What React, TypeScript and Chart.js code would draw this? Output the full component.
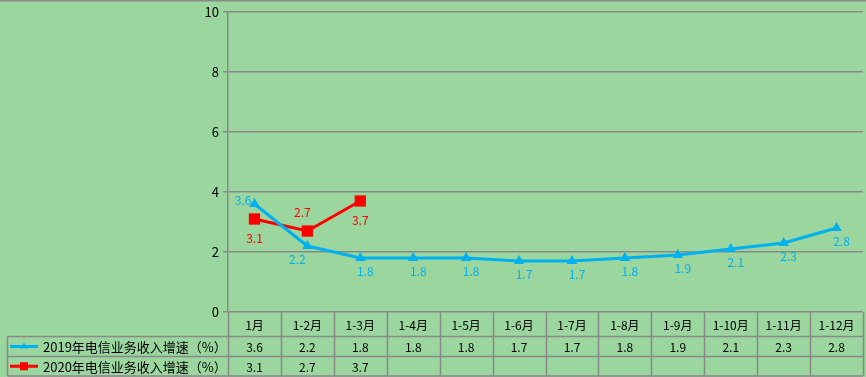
import React, { useEffect, useRef } from "react";
import { Chart, registerables } from "chart.js";

Chart.register(...registerables);

const categories = ["1月", "1-2月", "1-3月", "1-4月", "1-5月", "1-6月", "1-7月", "1-8月", "1-9月", "1-10月", "1-11月", "1-12月"];
const seriesNames = ["2019年电信业务收入增速（%）", "2020年电信业务收入增速（%）"];
const growth2019: (number | null)[] = [3.6, 2.2, 1.8, 1.8, 1.8, 1.7, 1.7, 1.8, 1.9, 2.1, 2.3, 2.8];
const growth2020: (number | null)[] = [3.1, 2.7, 3.7, null, null, null, null, null, null, null, null, null];
const yMin = 0;
const yMax = 10;
const yStep = 2;

// label placement per point
const labelPos2019 = ["left", "belowleft", "below", "below", "below", "below", "below", "below", "below", "below", "below", "below"];
const labelPos2020 = ["below", "above", "below"];

const BG = "rgb(154,214,158)";
const GRID = "#898989";
const BLUE = "#00B0F0";
const RED = "#FF0000";
const FONT = "'Noto Sans CJK SC', 'Noto Sans', sans-serif";

export default function App() {
  const ref = useRef<HTMLCanvasElement | null>(null);

  useEffect(() => {
    document.body.style.margin = "0";
    const canvas = ref.current!;

    const bgPlugin = {
      id: "bg",
      beforeDraw(chart: any) {
        const ctx = chart.ctx;
        ctx.save();
        ctx.fillStyle = BG;
        ctx.fillRect(0, 0, chart.width, chart.height);
        ctx.strokeStyle = GRID;
        ctx.lineWidth = 2;
        ctx.beginPath();
        ctx.moveTo(0, 0.5);
        ctx.lineTo(chart.width, 0.5);
        ctx.stroke();
        ctx.restore();
      },
    };

    const labelPlugin = {
      id: "labels",
      afterDatasetsDraw(chart: any) {
        const ctx = chart.ctx;
        ctx.save();
        ctx.font = `12px ${FONT}`;
        chart.data.datasets.forEach((ds: any, di: number) => {
          const meta = chart.getDatasetMeta(di);
          const positions = di === 0 ? labelPos2019 : labelPos2020;
          const dist = di === 0 ? 13 : 19;
          const dx = di === 0 ? 5 : 0;
          ctx.fillStyle = ds.borderColor;
          meta.data.forEach((pt: any, i: number) => {
            const v = ds.data[i];
            if (v === null || v === undefined) return;
            const txt = v.toFixed(1);
            const pos = positions[i];
            ctx.textBaseline = "middle";
            if (pos === "left") {
              ctx.textAlign = "right";
              ctx.fillText(txt, pt.x - 3, pt.y - 4);
            } else if (pos === "above") {
              ctx.textAlign = "center";
              ctx.fillText(txt, pt.x - 5, pt.y - dist);
            } else if (pos === "belowleft") {
              ctx.textAlign = "center";
              ctx.fillText(txt, pt.x - 10, pt.y + dist);
            } else {
              ctx.textAlign = "center";
              ctx.fillText(txt, pt.x + dx, pt.y + dist);
            }
          });
        });
        ctx.restore();
      },
    };

    const tablePlugin = {
      id: "table",
      afterDraw(chart: any) {
        const ctx = chart.ctx;
        const x = chart.scales.x;
        const area = chart.chartArea;
        const top = area.bottom;
        const r1 = top + 24.5;
        const r2 = r1 + 20;
        const r3 = r2 + 19.5;
        const tableLeft = 7.5;
        const bounds: number[] = [];
        for (let i = 0; i <= categories.length; i++) bounds.push(x.getPixelForValue(i - 0.5));
        ctx.save();
        ctx.strokeStyle = GRID;
        ctx.lineWidth = 1.5;
        ctx.beginPath();
        bounds.forEach((b) => {
          const bx = Math.round(b) + 0.5;
          ctx.moveTo(bx, top);
          ctx.lineTo(bx, r3);
        });
        [r1, r2, r3].forEach((ry) => {
          ctx.moveTo(tableLeft, ry);
          ctx.lineTo(bounds[bounds.length - 1], ry);
        });
        ctx.moveTo(tableLeft, r1);
        ctx.lineTo(tableLeft, r3);
        ctx.stroke();

        ctx.fillStyle = "#000";
        ctx.font = `12px ${FONT}`;
        ctx.textAlign = "center";
        ctx.textBaseline = "middle";
        categories.forEach((c, i) => {
          const cx = (bounds[i] + bounds[i + 1]) / 2;
          ctx.fillText(c, cx, (top + r1) / 2 + 1);
          const a = growth2019[i];
          if (a !== null) ctx.fillText(a.toFixed(1), cx, (r1 + r2) / 2 + 1);
          const b = growth2020[i];
          if (b !== null && b !== undefined) ctx.fillText(b.toFixed(1), cx, (r2 + r3) / 2 + 1);
        });

        // legend keys
        const rows = [(r1 + r2) / 2, (r2 + r3) / 2];
        const colors = [BLUE, RED];
        rows.forEach((ry, k) => {
          ctx.strokeStyle = colors[k];
          ctx.lineWidth = 3;
          ctx.beginPath();
          ctx.moveTo(10, ry);
          ctx.lineTo(38, ry);
          ctx.stroke();
          ctx.fillStyle = colors[k];
          if (k === 0) {
            ctx.beginPath();
            ctx.moveTo(24, ry - 4);
            ctx.lineTo(28, ry + 2);
            ctx.lineTo(20, ry + 2);
            ctx.closePath();
            ctx.fill();
          } else {
            ctx.fillRect(20, ry - 4, 8, 8);
          }
          ctx.fillStyle = "#000";
          ctx.textAlign = "left";
          ctx.font = `13px ${FONT}`;
          ctx.fillText(seriesNames[k], 43, ry + 1);
        });
        ctx.restore();
      },
    };

    const chart = new Chart(canvas, {
      type: "line",
      data: {
        labels: categories,
        datasets: [
          {
            label: seriesNames[0],
            data: growth2019,
            borderColor: BLUE,
            backgroundColor: BLUE,
            borderWidth: 3,
            pointStyle: "triangle",
            pointRadius: 6,
            pointBorderWidth: 0,
            tension: 0,
          },
          {
            label: seriesNames[1],
            data: growth2020,
            borderColor: RED,
            backgroundColor: RED,
            borderWidth: 3,
            pointStyle: "rect",
            pointRadius: 8,
            pointBorderWidth: 0,
            tension: 0,
          },
        ],
      },
      options: {
        responsive: false,
        animation: false,
        layout: { autoPadding: false, padding: { left: 0, right: 3, top: 12, bottom: 65 } },
        plugins: { legend: { display: false }, tooltip: { enabled: false } },
        scales: {
          x: {
            type: "category",
            offset: true,
            display: false,
            grid: { display: false },
          },
          y: {
            min: yMin,
            max: yMax,
            ticks: {
              stepSize: yStep,
              color: "#000",
              font: { family: FONT, size: 13 },
              padding: 4,
            },
            grid: { color: GRID, lineWidth: 1.5, tickLength: 5, drawTicks: true },
            border: { color: GRID, width: 1.5 },
            afterFit(scale: any) {
              scale.width = 228;
            },
          },
        },
      },
      plugins: [bgPlugin, labelPlugin, tablePlugin],
    });
    return () => chart.destroy();
  }, []);

  return <canvas ref={ref} width={866} height={377} style={{ display: "block" }} />;
}
